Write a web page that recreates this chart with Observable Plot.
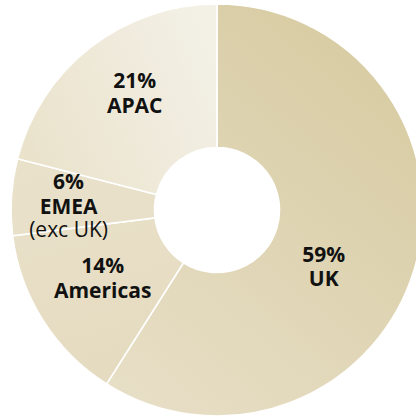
<!DOCTYPE html>
<html>
<head>
<meta charset="utf-8">
<script src="https://cdn.jsdelivr.net/npm/d3@7"></script>
<script src="https://cdn.jsdelivr.net/npm/@observablehq/plot@0.6"></script>
<style>
  html, body { margin: 0; padding: 0; background: #fff; }
  #chart svg { display: block; }
</style>
</head>
<body>
<div id="chart"></div>
<script>
// ---- data ----
const regions = ["UK", "Americas", "EMEA", "APAC"];
const shares = [59, 14, 6, 21];
const sublabels = ["", "", "(exc UK)", ""];

// ---- styling / layout (not data) ----
const gradients = [
  {x1: 0.8, y1: 0, x2: 0.15, y2: 1, from: "#d7cba1", to: "#e7dec6"},
  {x1: 0, y1: 0, x2: 0.3, y2: 1, from: "#e9e0c9", to: "#e5dbc0"},
  {x1: 0, y1: 0, x2: 1, y2: 1, from: "#e9e1ca", to: "#e8dfc8"},
  {x1: 1, y1: 0.3, x2: 0, y2: 0.7, from: "#f3f0e6", to: "#eae2cb"}
];
const labelRadiusPx = [120, 133, 149, 144];
const labelAngleNudge = [11.5, 2.1, -1.9, 2.7];
const W = 416, H = 417;
const cx = 217, cy = 210, R = 206, innerFrac = 62.5 / 206;

const table = regions.map((region, i) => ({region, share: shares[i], sub: sublabels[i], i}));
const arcs = d3.pie().sort(null).value(d => d.share)(table);

const labels = arcs.map((a, i) => {
  const ang = (a.startAngle + a.endAngle) / 2 + labelAngleNudge[i] * Math.PI / 180;
  const r = labelRadiusPx[i] / R;
  return {
    x: r * Math.sin(ang),
    y: r * Math.cos(ang),
    main: `${a.data.share}%\n${a.data.region}`,
    sub: a.data.sub
  };
});

function donut(index, scales) {
  const {x, y} = scales;
  const ox = x(0), oy = y(0);
  const ro = x(1) - x(0);
  const arcGen = d3.arc().innerRadius(ro * innerFrac).outerRadius(ro);
  const g = d3.create("svg:g");
  const defs = g.append("defs");
  gradients.forEach((gr, i) => {
    const lg = defs.append("linearGradient").attr("id", "slice-grad-" + i)
      .attr("x1", gr.x1).attr("y1", gr.y1).attr("x2", gr.x2).attr("y2", gr.y2);
    lg.append("stop").attr("offset", 0).attr("stop-color", gr.from);
    lg.append("stop").attr("offset", 1).attr("stop-color", gr.to);
  });
  g.attr("transform", `translate(${ox},${oy})`);
  g.selectAll("path.slice").data(arcs).join("path")
    .attr("class", "slice")
    .attr("d", arcGen)
    .attr("fill", (d, i) => `url(#slice-grad-${i})`)
    .attr("stroke", "#fff")
    .attr("stroke-width", 1.6);
  return g.node();
}

const plot = Plot.plot({
  width: W,
  height: H,
  margin: 0,
  style: {background: "transparent", fontFamily: "'Open Sans', sans-serif"},
  x: {domain: [-1, 1], range: [cx - R, cx + R], axis: null},
  y: {domain: [-1, 1], range: [cy + R, cy - R], axis: null},
  marks: [
    donut,
    Plot.text(labels.filter(d => !d.sub), {
      x: "x", y: "y", text: "main",
      fontSize: 21, fontWeight: 700, fill: "#111", lineHeight: 1.17,
      lineAnchor: "middle", textAnchor: "middle"
    }),
    Plot.text(labels.filter(d => d.sub), {
      x: "x", y: "y", text: "main", dy: -12.3,
      fontSize: 21, fontWeight: 700, fill: "#111", lineHeight: 1.17,
      lineAnchor: "middle", textAnchor: "middle"
    }),
    Plot.text(labels.filter(d => d.sub), {
      x: "x", y: "y", text: "sub", dy: 24.5,
      fontSize: 21, fontWeight: 400, fill: "#111",
      lineAnchor: "middle", textAnchor: "middle"
    })
  ]
});
document.getElementById("chart").appendChild(plot);
</script>
</body>
</html>
